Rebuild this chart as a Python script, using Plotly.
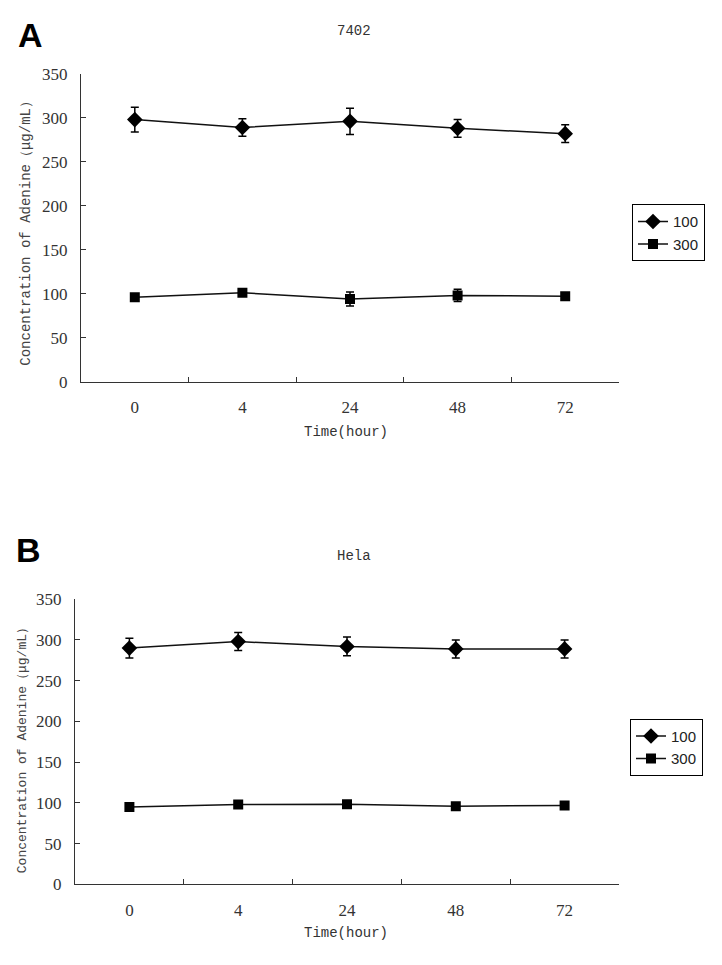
import plotly.graph_objects as go

W, H = 722, 965
OFF = 8  # page body margin
FW, FH = W - OFF, H - OFF

times = ["0", "4", "24", "48", "72"]
series_names = ["100", "300"]

# Panel A (7402)
a100 = [298, 289, 296, 288, 282]
a100_err = [14, 10, 15, 10, 10]
a300 = [96, 101, 94, 98, 97]
a300_err = [3, 2, 8, 7, 3]

# Panel B (Hela)
b100 = [290, 298, 292, 289, 289]
b100_err = [12, 11, 11.5, 11, 11]
b300 = [95, 98, 98.5, 96, 97]
b300_err = [3, 3, 2, 2, 3]

panel_titles = ["7402", "Hela"]
panel_letters = ["A", "B"]
x_title = "Time(hour)"
y_title = "Concentration of Adenine（μg/mL）"


def px(x):
    return (x - OFF) / FW


def py(y):
    return 1 - (y - OFF) / FH


fig = go.Figure()

line_color = "#111111"
axis_color = "#333333"


def add_series(y, err, name, symbol, size, xa, ya, legend):
    fig.add_trace(go.Scatter(
        x=times, y=y, name=name, mode="lines+markers",
        xaxis=xa, yaxis=ya, legend=legend,
        line=dict(color=line_color, width=1.5),
        marker=dict(symbol=symbol, size=size, color="black"),
        error_y=dict(type="data", array=err, visible=True, color="black",
                     thickness=1.5, width=4),
    ))


add_series(a100, a100_err, series_names[0], "diamond", 12, "x", "y", "legend")
add_series(a300, a300_err, series_names[1], "square", 10, "x", "y", "legend")
add_series(b100, b100_err, series_names[0], "diamond", 12, "x2", "y2", "legend2")
add_series(b300, b300_err, series_names[1], "square", 10, "x2", "y2", "legend2")

tickfont = dict(family="Liberation Serif", size=17, color="#333333")

xcommon = dict(
    type="category", categoryorder="array", categoryarray=times,
    range=[-0.5, 4.5], tickson="boundaries", ticks="inside", ticklen=5,
    tickcolor=axis_color, showline=True, linecolor=axis_color, linewidth=1.2,
    showgrid=False, zeroline=False, tickfont=tickfont, ticklabelstandoff=10,
)
ycommon = dict(
    range=[0, 350], dtick=50, ticks="inside", ticklen=5, tickcolor=axis_color,
    showline=True, linecolor=axis_color, linewidth=1.2, showgrid=False,
    zeroline=False, tickfont=tickfont, ticklabelstandoff=9,
)

legend_style = dict(xanchor="left", yanchor="top",
                    bordercolor="black", borderwidth=1, bgcolor="white",
                    font=dict(family="Liberation Sans", size=15, color="#222222"),
                    itemwidth=30, tracegroupgap=0)

fig.update_layout(
    width=FW, height=FH, autosize=False,
    margin=dict(l=0, r=0, t=0, b=0),
    paper_bgcolor="white", plot_bgcolor="white",
    xaxis=dict(domain=[px(81), px(619)], anchor="y", **xcommon),
    yaxis=dict(domain=[py(380), py(66)], anchor="x", **ycommon),
    xaxis2=dict(domain=[px(75), px(619)], anchor="y2", **xcommon),
    yaxis2=dict(domain=[py(893), py(602)], anchor="x2", **ycommon),
    legend=dict(x=px(632), y=py(199), **legend_style),
    legend2=dict(x=px(630), y=py(724), **legend_style),
    showlegend=True,
)

ann = []
# Panel letters
ann.append(dict(text=f"<b>{panel_letters[0]}</b>", x=px(16), y=py(26), xanchor="left",
                yanchor="middle", font=dict(family="Liberation Sans", size=34, color="black")))
ann.append(dict(text=f"<b>{panel_letters[1]}</b>", x=px(14), y=py(552), xanchor="left",
                yanchor="middle", font=dict(family="Liberation Sans", size=34, color="black")))
# Titles
ann.append(dict(text=panel_titles[0], x=px(354), y=py(22), xanchor="center", yanchor="middle",
                font=dict(family="Liberation Mono", size=14, color="#333333")))
ann.append(dict(text=panel_titles[1], x=px(354), y=py(558), xanchor="center", yanchor="middle",
                font=dict(family="Liberation Mono", size=14, color="#333333")))
# X titles
ann.append(dict(text=x_title, x=px(346), y=py(431), xanchor="center", yanchor="middle",
                font=dict(family="Liberation Mono", size=14, color="#333333")))
ann.append(dict(text=x_title, x=px(346), y=py(943), xanchor="center", yanchor="middle",
                font=dict(family="Liberation Mono", size=14, color="#333333")))
# Y titles
ann.append(dict(text=y_title, x=px(26), y=py(225), xanchor="center", yanchor="middle",
                textangle=-90,
                font=dict(family="Liberation Mono", size=14, color="#444444")))
ann.append(dict(text=y_title, x=px(22), y=py(753), xanchor="center", yanchor="middle",
                textangle=-90,
                font=dict(family="Liberation Mono", size=13, color="#444444")))

for a in ann:
    a.update(xref="paper", yref="paper", showarrow=False)
fig.update_layout(annotations=ann)

fig.write_html("out.html")
